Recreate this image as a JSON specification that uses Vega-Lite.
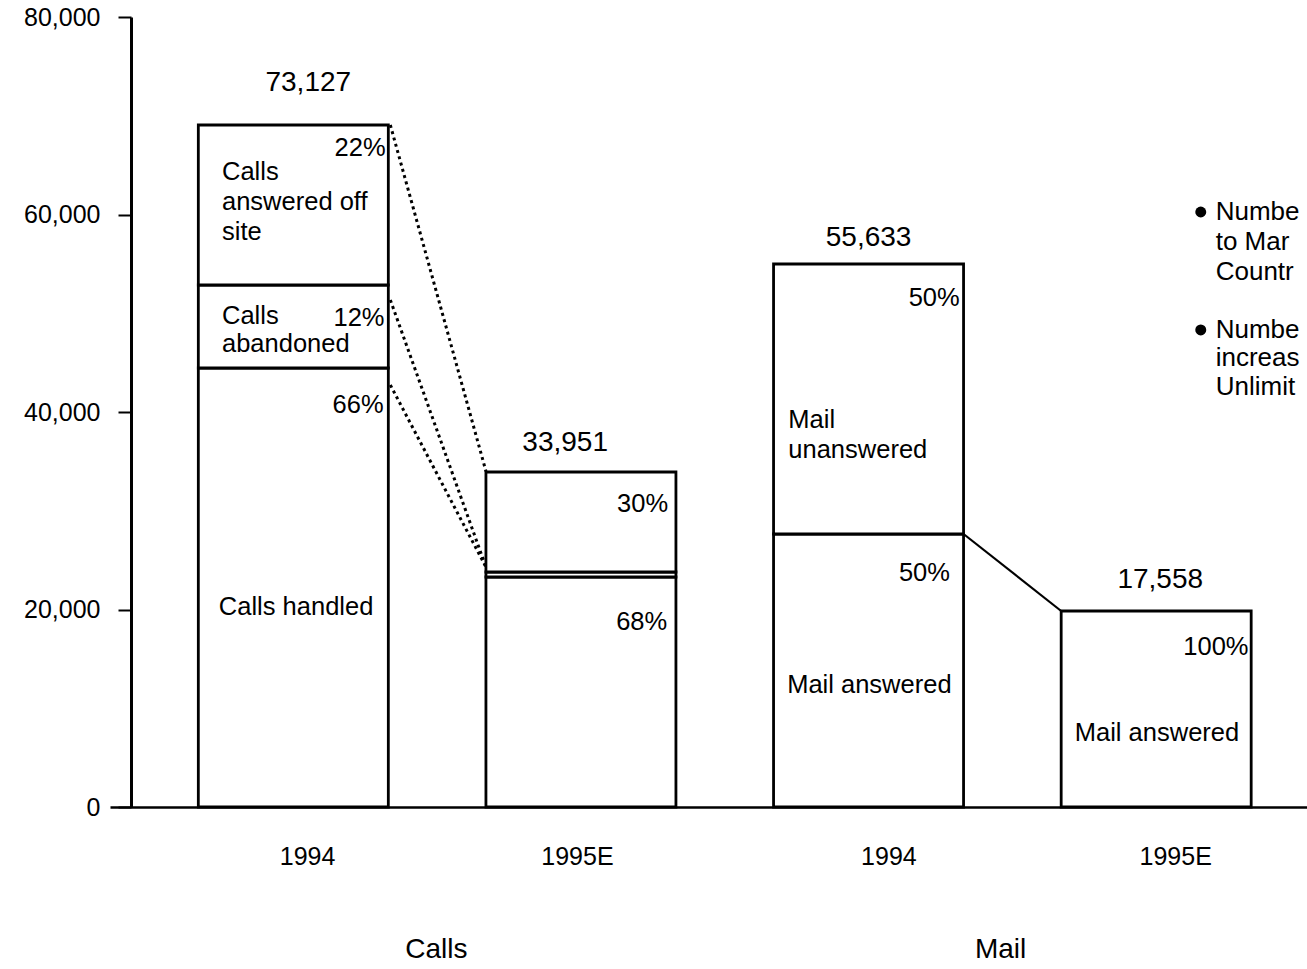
{
  "$schema": "https://vega.github.io/schema/vega-lite/v6.json",
  "width": 1197,
  "height": 790,
  "autosize": {"type": "none"},
  "padding": {"left": 110, "top": 17, "right": 0, "bottom": 162},
  "background": "white",
  "config": {
    "view": {"stroke": null},
    "font": "Liberation Sans",
    "text": {"font": "Liberation Sans", "fontSize": 24, "color": "black", "baseline": "middle"}
  },
  "datasets": {
    "segments": [
      {"bar": "Calls 1994", "pos": 1, "lo": 0, "hi": 44456},
      {"bar": "Calls 1994", "pos": 1, "lo": 44456, "hi": 52861},
      {"bar": "Calls 1994", "pos": 1, "lo": 52861, "hi": 69063},
      {"bar": "Calls 1995E", "pos": 2, "lo": 0, "hi": 23291},
      {"bar": "Calls 1995E", "pos": 2, "lo": 23291, "hi": 23797},
      {"bar": "Calls 1995E", "pos": 2, "lo": 23797, "hi": 33924},
      {"bar": "Mail 1994", "pos": 3, "lo": 0, "hi": 27646},
      {"bar": "Mail 1994", "pos": 3, "lo": 27646, "hi": 54987},
      {"bar": "Mail 1995E", "pos": 4, "lo": 0, "hi": 19848}
    ],
    "links": [
      {"from": 1, "to": 2, "v1": 69063, "v2": 34000, "style": "dotted"},
      {"from": 1, "to": 2, "v1": 51342, "v2": 24300, "style": "dotted"},
      {"from": 1, "to": 2, "v1": 42734, "v2": 24300, "style": "dotted"},
      {"from": 3, "to": 4, "v1": 27646, "v2": 19848, "style": "solid"}
    ],
    "texts": [
      {"kind": "total", "t": "73,127", "x": 1.052, "y": 73319},
      {"kind": "total", "t": "33,951", "x": 1.945, "y": 36862},
      {"kind": "total", "t": "55,633", "x": 3.0, "y": 57624},
      {"kind": "total", "t": "17,558", "x": 4.014, "y": 22988},
      {"kind": "pct", "t": "22%", "x": 1.321, "y": 66737},
      {"kind": "pct", "t": "12%", "x": 1.317, "y": 49522},
      {"kind": "pct", "t": "66%", "x": 1.314, "y": 40713},
      {"kind": "pct", "t": "30%", "x": 2.303, "y": 30685},
      {"kind": "pct", "t": "68%", "x": 2.3, "y": 18735},
      {"kind": "pct", "t": "50%", "x": 3.317, "y": 51545},
      {"kind": "pct", "t": "50%", "x": 3.283, "y": 23697},
      {"kind": "pct", "t": "100%", "x": 4.321, "y": 16203},
      {"kind": "label", "t": "Calls", "x": 0.752, "y": 64307},
      {"kind": "label", "t": "answered off", "x": 0.752, "y": 61268},
      {"kind": "label", "t": "site", "x": 0.752, "y": 58230},
      {"kind": "label", "t": "Calls", "x": 0.752, "y": 49724},
      {"kind": "label", "t": "abandoned", "x": 0.752, "y": 46888},
      {"kind": "label", "t": "Calls handled", "x": 0.741, "y": 20254},
      {"kind": "label", "t": "Mail", "x": 2.721, "y": 39191},
      {"kind": "label", "t": "unanswered", "x": 2.721, "y": 36153},
      {"kind": "label", "t": "Mail answered", "x": 2.717, "y": 12355},
      {"kind": "label", "t": "Mail answered", "x": 3.717, "y": 7494},
      {"kind": "legend", "t": "Numbe", "x": 4.207, "y": 60253},
      {"kind": "legend", "t": "to Mar", "x": 4.207, "y": 57217},
      {"kind": "legend", "t": "Countr", "x": 4.207, "y": 54179},
      {"kind": "legend", "t": "Numbe", "x": 4.207, "y": 48306},
      {"kind": "legend", "t": "increas", "x": 4.207, "y": 45470},
      {"kind": "legend", "t": "Unlimit", "x": 4.207, "y": 42533},
      {"kind": "group", "t": "Calls", "x": 1.497, "y": -14481},
      {"kind": "group", "t": "Mail", "x": 3.459, "y": -14481}
    ],
    "bullets": [
      {"x": 4.155, "y": 60253},
      {"x": 4.155, "y": 48306}
    ]
  },
  "layer": [
    {
      "data": {"name": "segments"},
      "mark": {"type": "bar", "size": 190, "fill": "white", "stroke": "black", "strokeWidth": 2.8},
      "encoding": {
        "x": {
          "field": "pos", "type": "quantitative",
          "scale": {"domain": [0.38, 4.507], "nice": false, "zero": false},
          "axis": {
            "values": [1.048, 1.986, 3.069, 4.066],
            "labelExpr": "datum.value < 1.5 ? '1994' : (datum.value < 2.5 ? '1995E' : (datum.value < 3.5 ? '1994' : '1995E'))",
            "ticks": false, "grid": false, "title": null,
            "domainColor": "black", "domainWidth": 2.5,
            "labelFont": "Liberation Sans", "labelFontSize": 25, "labelColor": "black",
            "labelPadding": 37
          }
        },
        "y": {
          "field": "lo", "type": "quantitative",
          "scale": {"domain": [0, 80000], "nice": false},
          "axis": {
            "values": [0, 20000, 40000, 60000, 80000],
            "labelExpr": "format(datum.value, ',')",
            "offset": -21, "tickSize": 13, "tickWidth": 2, "tickColor": "black",
            "domainColor": "black", "domainWidth": 3, "grid": false, "title": null,
            "labelFont": "Liberation Sans", "labelFontSize": 25, "labelColor": "black",
            "labelPadding": 18
          }
        },
        "y2": {"field": "hi"}
      }
    },
    {
      "data": {"name": "links"},
      "transform": [{"filter": "datum.style == 'dotted'"}],
      "mark": {"type": "rule", "color": "black", "strokeWidth": 3, "strokeDash": [3, 3.5], "xOffset": 97, "x2Offset": -95},
      "encoding": {
        "x": {"field": "from", "type": "quantitative", "title": null},
        "x2": {"field": "to"},
        "y": {"field": "v1", "type": "quantitative", "title": null},
        "y2": {"field": "v2"}
      }
    },
    {
      "data": {"name": "links"},
      "transform": [{"filter": "datum.style == 'solid'"}],
      "mark": {"type": "rule", "color": "black", "strokeWidth": 2.2, "xOffset": 95, "x2Offset": -95},
      "encoding": {
        "x": {"field": "from", "type": "quantitative", "title": null},
        "x2": {"field": "to"},
        "y": {"field": "v1", "type": "quantitative", "title": null},
        "y2": {"field": "v2"}
      }
    },
    {
      "data": {"name": "texts"},
      "transform": [{"filter": "datum.kind == 'total'"}],
      "mark": {"type": "text", "align": "center", "fontSize": 28},
      "encoding": {
        "x": {"field": "x", "type": "quantitative", "title": null},
        "y": {"field": "y", "type": "quantitative", "title": null},
        "text": {"field": "t"}
      }
    },
    {
      "data": {"name": "texts"},
      "transform": [{"filter": "datum.kind == 'pct'"}],
      "mark": {"type": "text", "align": "right", "fontSize": 25.5},
      "encoding": {
        "x": {"field": "x", "type": "quantitative", "title": null},
        "y": {"field": "y", "type": "quantitative", "title": null},
        "text": {"field": "t"}
      }
    },
    {
      "data": {"name": "texts"},
      "transform": [{"filter": "datum.kind == 'label'"}],
      "mark": {"type": "text", "align": "left", "fontSize": 25.5},
      "encoding": {
        "x": {"field": "x", "type": "quantitative", "title": null},
        "y": {"field": "y", "type": "quantitative", "title": null},
        "text": {"field": "t"}
      }
    },
    {
      "data": {"name": "texts"},
      "transform": [{"filter": "datum.kind == 'legend'"}],
      "mark": {"type": "text", "align": "left", "fontSize": 26},
      "encoding": {
        "x": {"field": "x", "type": "quantitative", "title": null},
        "y": {"field": "y", "type": "quantitative", "title": null},
        "text": {"field": "t"}
      }
    },
    {
      "data": {"name": "texts"},
      "transform": [{"filter": "datum.kind == 'group'"}],
      "mark": {"type": "text", "align": "center", "fontSize": 28},
      "encoding": {
        "x": {"field": "x", "type": "quantitative", "title": null},
        "y": {"field": "y", "type": "quantitative", "title": null},
        "text": {"field": "t"}
      }
    },
    {
      "data": {"name": "bullets"},
      "mark": {"type": "point", "shape": "circle", "filled": true, "color": "black", "size": 120, "opacity": 1},
      "encoding": {
        "x": {"field": "x", "type": "quantitative", "title": null},
        "y": {"field": "y", "type": "quantitative", "title": null}
      }
    }
  ]
}
